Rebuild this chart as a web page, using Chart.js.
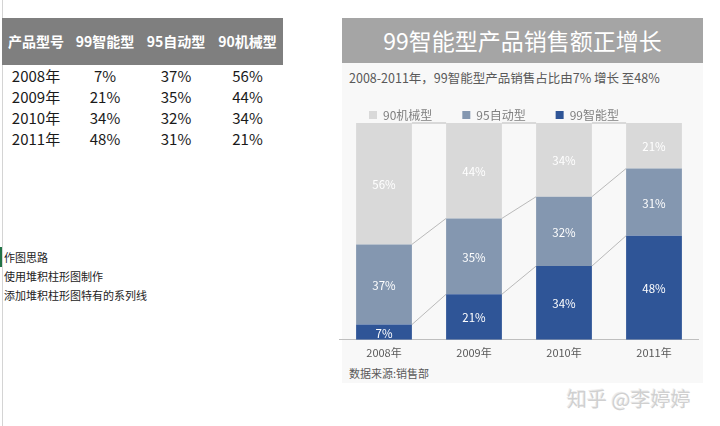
<!DOCTYPE html>
<html>
<head>
<meta charset="utf-8">
<script src="https://cdn.jsdelivr.net/npm/chart.js@4"></script>
<style>
  html, body { margin: 0; padding: 0; background: #fff; }
  body { width: 720px; height: 426px; position: relative; overflow: hidden;
         font-family: "Noto Sans CJK SC", "Noto Sans", sans-serif; }
  .abs { position: absolute; }
  #sheetLine { left: 2px; top: 0; width: 1px; height: 426px; background: #d4d4d4; }
  #cellMark { left: 0; top: 247px; width: 2px; height: 20px; background: #217346; }
  #thead { left: 2px; top: 18px; width: 281px; height: 47px; background: #7f7f7f; }
  .cell { position: absolute; text-align: center; white-space: nowrap; }
  .hcell { color: #fff; font-weight: bold; font-size: 14px; line-height: 47px; top: 0; }
  .dcell { color: #1a1a1a; font-size: 15px; line-height: 21px; }
  .note { left: 4px; font-size: 11px; color: #222; line-height: 19px; }
  #panel { left: 342px; top: 63px; width: 361px; height: 320px; background: #f8f8f8; }
  #titleBar { left: 342px; top: 18px; width: 361px; height: 45px; background: #a5a5a5;
              color: #fff; font-size: 23px; line-height: 45px; text-align: center; }
  #subtitle { left: 349px; top: 68px; font-size: 12.5px; color: #595959; white-space: nowrap; }
  #source { left: 349px; top: 365px; font-size: 11px; color: #595959; white-space: nowrap; }
  #chartBox { left: 339px; top: 79px; width: 360px; height: 286px; }
  #mark { left: 567px; top: 384px; font-size: 20px; color: #d0d0d0; white-space: nowrap;
          text-shadow: 1px 1px 0 #fff, -1px -1px 0 #ececec; }
</style>
</head>
<body>
<div class="abs" id="sheetLine"></div>
<div class="abs" id="cellMark"></div>
<div class="abs" id="thead"></div>
<div class="abs" id="tbody" style="left:2px;top:65px;width:281px;height:84px;"></div>
<div class="abs note" style="top:248px;">作图思路</div>
<div class="abs note" style="top:267px;">使用堆积柱形图制作</div>
<div class="abs note" style="top:286px;">添加堆积柱形图特有的系列线</div>

<div class="abs" id="panel"></div>
<div class="abs" id="titleBar">99智能型产品销售额正增长</div>
<div class="abs" id="subtitle">2008-2011年，99智能型产品销售占比由7% 增长 至48%</div>
<div class="abs" id="source">数据来源:销售部</div>
<div class="abs" id="chartBox"><canvas id="chart" width="360" height="286"></canvas></div>
<div class="abs" id="mark">知乎 @李婷婷</div>

<script>
// data read from the sheet
const categories = ['2008年', '2009年', '2010年', '2011年'];
const smart99 = [7, 21, 34, 48];
const auto95 = [37, 35, 32, 31];
const mech90 = [56, 44, 34, 21];
const seriesNames = ['99智能型', '95自动型', '90机械型'];
const headerLabel = '产品型号';

// table on the left
const colLeft = [0, 68, 138, 210];
const colWidth = [68, 70, 72, 71];
const thead = document.getElementById('thead');
[headerLabel].concat(seriesNames).forEach((t, c) => {
  const d = document.createElement('div');
  d.className = 'cell hcell';
  d.style.left = colLeft[c] + 'px';
  d.style.width = colWidth[c] + 'px';
  d.textContent = t;
  thead.appendChild(d);
});
const tbody = document.getElementById('tbody');
categories.forEach((cat, r) => {
  const row = [cat, smart99[r] + '%', auto95[r] + '%', mech90[r] + '%'];
  row.forEach((t, c) => {
    const d = document.createElement('div');
    d.className = 'cell dcell';
    d.style.left = colLeft[c] + 'px';
    d.style.width = colWidth[c] + 'px';
    d.style.top = (r * 21) + 'px';
    d.textContent = t;
    tbody.appendChild(d);
  });
});

// series lines between stacked bars
const seriesLines = {
  id: 'seriesLines',
  beforeDatasetsDraw(chart) {
    const ctx = chart.ctx;
    ctx.save();
    ctx.strokeStyle = '#a9a9a9';
    ctx.lineWidth = 0.8;
    chart.data.datasets.forEach((ds, d) => {
      const bars = chart.getDatasetMeta(d).data;
      for (let i = 0; i < bars.length - 1; i++) {
        const a = bars[i], b = bars[i + 1];
        ctx.beginPath();
        ctx.moveTo(a.x + a.width / 2, a.y);
        ctx.lineTo(b.x - b.width / 2, b.y);
        ctx.stroke();
      }
    });
    ctx.restore();
  }
};

// percentage labels inside the segments
const barLabels = {
  id: 'barLabels',
  afterDatasetsDraw(chart) {
    const ctx = chart.ctx;
    ctx.save();
    ctx.fillStyle = '#ffffff';
    ctx.font = '11.5px "Noto Sans CJK SC", "Noto Sans", sans-serif';
    ctx.textAlign = 'center';
    ctx.textBaseline = 'middle';
    chart.data.datasets.forEach((ds, d) => {
      chart.getDatasetMeta(d).data.forEach((bar, i) => {
        ctx.fillText(ds.data[i] + '%', bar.x, (bar.y + bar.base) / 2 + 1);
      });
    });
    ctx.restore();
  }
};

new Chart(document.getElementById('chart'), {
  type: 'bar',
  data: {
    labels: categories,
    datasets: [
      { label: seriesNames[0], data: smart99, backgroundColor: '#2f5597' },
      { label: seriesNames[1], data: auto95, backgroundColor: '#8497b0' },
      { label: seriesNames[2], data: mech90, backgroundColor: '#d9d9d9' }
    ]
  },
  options: {
    responsive: false,
    animation: false,
    layout: { padding: 0 },
    datasets: { bar: { barPercentage: 0.62, categoryPercentage: 1.0, borderWidth: 0 } },
    plugins: {
      tooltip: { enabled: false },
      legend: {
        position: 'top',
        align: 'start',
        reverse: true,
        maxHeight: 44,
        labels: {
          boxWidth: 8,
          boxHeight: 8,
          padding: 30,
          color: '#7f7f7f',
          font: { size: 12, family: '"Noto Sans CJK SC", "Noto Sans", sans-serif' }
        }
      }
    },
    scales: {
      x: {
        stacked: true,
        grid: { display: false, drawTicks: false },
        border: { display: true, color: '#bfbfbf', width: 1 },
        ticks: { color: '#595959', padding: 6,
                 font: { size: 11, family: '"Noto Sans CJK SC", "Noto Sans", sans-serif' } }
      },
      y: { stacked: true, min: 0, max: 100, display: false }
    }
  },
  plugins: [seriesLines, barLabels]
});
</script>
</body>
</html>
